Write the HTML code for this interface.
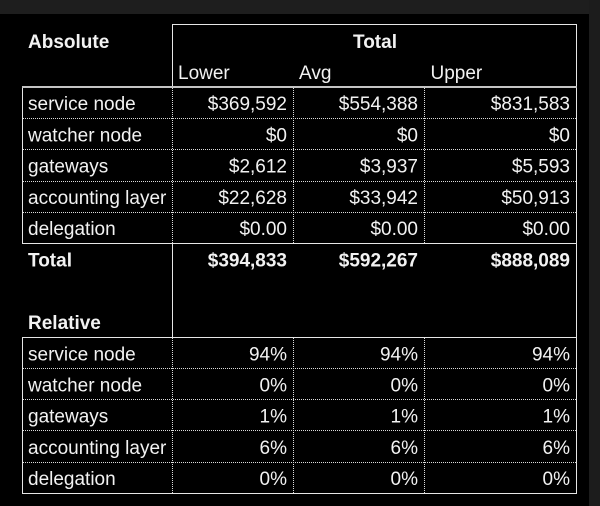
<!DOCTYPE html>
<html><head><meta charset="utf-8"><style>
html,body{margin:0;padding:0;background:#000;}
svg{display:block;}
text{font-family:"Liberation Sans",Arial,sans-serif;font-size:19px;fill:#f2f2f2;}
.b{font-weight:bold;}
.r{text-anchor:end;}
</style></head><body>
<svg width="600" height="506" viewBox="0 0 600 506" xmlns="http://www.w3.org/2000/svg">
<rect x="0" y="0" width="600" height="506" fill="#000"/>
<rect x="0" y="0" width="600" height="14" fill="#1e1e1e"/>
<rect x="589" y="0" width="11" height="506" fill="#1c1c1c"/>

<g shape-rendering="crispEdges" fill="none">
<!-- solid lines -->
<g stroke="#e6e6e6" stroke-width="1">
<line x1="172.5" y1="24.5" x2="577" y2="24.5"/>
<line x1="172.5" y1="24" x2="172.5" y2="87"/>
<line x1="576.5" y1="24" x2="576.5" y2="494"/>
<line x1="22.5" y1="87" x2="22.5" y2="244"/>
<line x1="22.5" y1="337" x2="22.5" y2="494"/>
<line x1="22" y1="243.5" x2="577" y2="243.5"/>
<line x1="22" y1="337.5" x2="577" y2="337.5"/>
<line x1="22" y1="493.5" x2="577" y2="493.5"/>
<line x1="172.5" y1="243" x2="172.5" y2="338"/>
</g>
<rect x="22" y="86" width="555" height="2" fill="#c4c4c4" stroke="none"/>
<!-- dotted lines -->
<g stroke="#dcdcdc" stroke-width="1" stroke-dasharray="1,1">
<line x1="172.5" y1="88" x2="172.5" y2="243"/>
<line x1="293.5" y1="88" x2="293.5" y2="243"/>
<line x1="424.5" y1="88" x2="424.5" y2="243"/>
<line x1="172.5" y1="338" x2="172.5" y2="493"/>
<line x1="293.5" y1="338" x2="293.5" y2="493"/>
<line x1="424.5" y1="338" x2="424.5" y2="493"/>
<line x1="23" y1="118.5" x2="576" y2="118.5"/>
<line x1="23" y1="149.5" x2="576" y2="149.5"/>
<line x1="23" y1="181.5" x2="576" y2="181.5"/>
<line x1="23" y1="212.5" x2="576" y2="212.5"/>
<line x1="23" y1="368.5" x2="576" y2="368.5"/>
<line x1="23" y1="399.5" x2="576" y2="399.5"/>
<line x1="23" y1="430.5" x2="576" y2="430.5"/>
<line x1="23" y1="462.5" x2="576" y2="462.5"/>
</g>
</g>

<!-- header -->
<text class="b" x="28" y="48">Absolute</text>
<text class="b" x="375" y="48" text-anchor="middle">Total</text>
<text x="178" y="79">Lower</text>
<text x="299" y="79">Avg</text>
<text x="430.5" y="79">Upper</text>

<!-- absolute rows -->
<text x="28" y="110">service node</text>
<text class="r" x="287" y="110">$369,592</text>
<text class="r" x="418" y="110">$554,388</text>
<text class="r" x="570" y="110">$831,583</text>

<text x="28" y="141.3">watcher node</text>
<text class="r" x="287" y="141.3">$0</text>
<text class="r" x="418" y="141.3">$0</text>
<text class="r" x="570" y="141.3">$0</text>

<text x="28" y="172.6">gateways</text>
<text class="r" x="287" y="172.6">$2,612</text>
<text class="r" x="418" y="172.6">$3,937</text>
<text class="r" x="570" y="172.6">$5,593</text>

<text x="28" y="203.9">accounting layer</text>
<text class="r" x="287" y="203.9">$22,628</text>
<text class="r" x="418" y="203.9">$33,942</text>
<text class="r" x="570" y="203.9">$50,913</text>

<text x="28" y="235.2">delegation</text>
<text class="r" x="287" y="235.2">$0.00</text>
<text class="r" x="418" y="235.2">$0.00</text>
<text class="r" x="570" y="235.2">$0.00</text>

<text class="b" x="28" y="266.5">Total</text>
<text class="b r" x="287" y="266.5">$394,833</text>
<text class="b r" x="418" y="266.5">$592,267</text>
<text class="b r" x="570" y="266.5">$888,089</text>

<text class="b" x="28" y="329">Relative</text>

<!-- relative rows -->
<text x="28" y="360.3">service node</text>
<text class="r" x="287" y="360.3">94%</text>
<text class="r" x="418" y="360.3">94%</text>
<text class="r" x="570" y="360.3">94%</text>

<text x="28" y="391.5">watcher node</text>
<text class="r" x="287" y="391.5">0%</text>
<text class="r" x="418" y="391.5">0%</text>
<text class="r" x="570" y="391.5">0%</text>

<text x="28" y="422.7">gateways</text>
<text class="r" x="287" y="422.7">1%</text>
<text class="r" x="418" y="422.7">1%</text>
<text class="r" x="570" y="422.7">1%</text>

<text x="28" y="453.9">accounting layer</text>
<text class="r" x="287" y="453.9">6%</text>
<text class="r" x="418" y="453.9">6%</text>
<text class="r" x="570" y="453.9">6%</text>

<text x="28" y="485.1">delegation</text>
<text class="r" x="287" y="485.1">0%</text>
<text class="r" x="418" y="485.1">0%</text>
<text class="r" x="570" y="485.1">0%</text>
</svg>
</body></html>
